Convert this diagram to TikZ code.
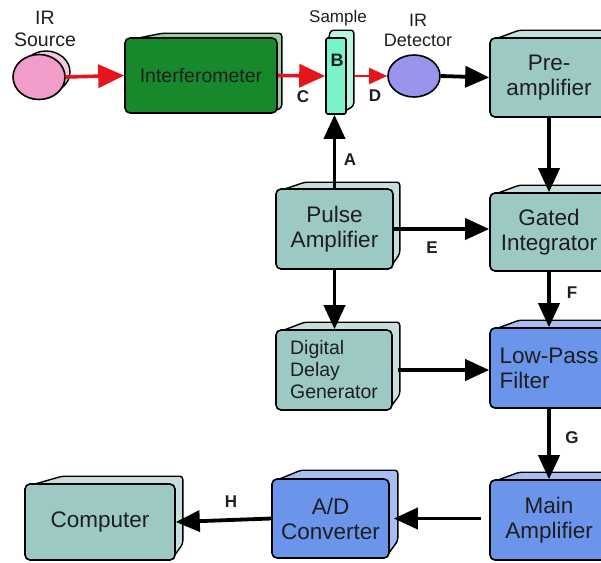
\documentclass[tikz,border=0pt]{standalone}
\usepackage{fontspec}
\setmainfont{Liberation Sans}
\usetikzlibrary{positioning,calc,shapes.geometric,arrows.meta,backgrounds}

\definecolor{tealF}{HTML}{9DC9C5}
\definecolor{tealB}{HTML}{C6DFDC}
\definecolor{blueF}{HTML}{6B95EA}
\definecolor{blueB}{HTML}{A6BFF0}
\definecolor{greenF}{HTML}{17882B}
\definecolor{greenB}{HTML}{93D09B}
\definecolor{mintF}{HTML}{7AF2CA}
\definecolor{mintB}{HTML}{B8F6E0}
\definecolor{pinkF}{HTML}{F29DC9}
\definecolor{pinkB}{HTML}{F2C9DB}
\definecolor{violetF}{HTML}{9A93EB}
\definecolor{beamred}{HTML}{E5151B}
\definecolor{ink}{HTML}{1E1E1E}

\begin{document}
\begin{tikzpicture}[x=1pt, y=-1pt,
    box/.style={rectangle, draw=black, line width=1.6pt, rounded corners=5pt, inner sep=0pt, text=ink, font=\fontsize{22.5}{25}\selectfont, align=center},
    back/.style={draw=black, line width=1.4pt, rounded corners=3pt},
    lamp/.style={ellipse, draw=black, line width=1.6pt, inner sep=0pt},
    tag/.style={text=ink, font=\fontsize{19.5}{22}\selectfont, align=center, inner sep=0pt},
    letter/.style={text=ink, font=\fontsize{17}{17}\selectfont\bfseries, inner sep=0pt},
    arrow/.style={draw, line width=3.8pt, -{Triangle[length=24pt, width=21pt]}}, % black signal
    beam/.style={draw=beamred, line width=3.6pt, -{Triangle[length=26pt, width=23pt]}}, % IR beam
    thinbeam/.style={draw=beamred, line width=2pt, -{Triangle[length=18pt, width=16pt]}}
]
    \useasboundingbox (0,0) rectangle (601,562);
    \clip (0,0) rectangle (601,562);

    % Optics row
    \node (source) [lamp, fill=pinkF, minimum width=52pt, minimum height=45pt] at (39,77) {};
    \node (interf) [box, fill=greenF, minimum width=152pt, minimum height=75pt, font=\fontsize{19.5}{23}\selectfont] at (201,75.5) {Interferometer};
    \node (sample) [box, fill=mintF, minimum width=20pt, minimum height=76pt, rounded corners=2pt] at (336,76) {};
    \node (detector) [lamp, fill=violetF, minimum width=52pt, minimum height=42pt] at (414,76) {};
    \node (preamp) [box, fill=tealF, minimum width=118pt, minimum height=79pt] at (549,77.5) {Pre-\\amplifier};

    % Electronics
    \node (pulse) [box, fill=tealF, minimum width=117pt, minimum height=80pt] at (334.5,229) {Pulse\\Amplifier};
    \node (gated) [box, fill=tealF, minimum width=118pt, minimum height=78pt] at (549,232) {Gated\\Integrator};
    \node (delay) [box, fill=tealF, minimum width=116pt, minimum height=80pt, align=left, font=\fontsize{19.5}{22}\selectfont] at (334,370) {Digital\\Delay\\Generator};
    \node (lowpass) [box, fill=blueF, minimum width=118pt, minimum height=80pt, align=left] at (549,368) {Low-Pass\\Filter};
    \node (mainamp) [box, fill=blueF, minimum width=118pt, minimum height=80pt] at (549,520) {Main\\Amplifier};
    \node (ad) [box, fill=blueF, minimum width=117pt, minimum height=79pt] at (330.5,518.5) {A/D\\Converter};
    \node (computer) [box, fill=tealF, minimum width=150pt, minimum height=76pt] at (100,522) {Computer};

    % Back faces
    \begin{scope}[on background layer]
        \filldraw[line width=1.4pt, fill=pinkB] ($(source.center)+(7,-5)$) ellipse [x radius=24pt, y radius=21pt];
        \foreach \n/\c/\d/\h in {interf/greenB/4/6, sample/mintB/7/9, preamp/tealB/7/16, pulse/tealB/6/16, gated/tealB/7/16, delay/tealB/7/16, lowpass/blueB/7/16, mainamp/blueB/7/16, ad/blueB/8/18, computer/tealB/7/17}
            \draw[back, fill=\c] ($(\n.north west)+(3,3)$) -- ($(\n.north west)!0.25!(\n.north east)+(0,-\d)$) -- ($(\n.north east)+(\d,-\d)$) -- ($(\n.south east)+(\d,-\h)$) -- ($(\n.south east)+(-3,-3)$) -- cycle;
    \end{scope}

    % Texts
    \node (srcTag) [tag] at (45,29) {IR\\Source};
    \node (detTag) [tag, font=\fontsize{18}{20}\selectfont] at (418,30) {IR\\Detector};
    \node (smpTag) [tag, font=\fontsize{17}{18}\selectfont] at (338,18) {Sample};
    \node (lblB) [letter, font=\fontsize{18}{18}\selectfont\bfseries] at (337,60) {B};
    \node (lblA) [letter] at (350,160) {A};
    \node (lblC) [letter] at (303,97) {C};
    \node (lblD) [letter] at (375,96) {D};
    \node (lblE) [letter] at (432,248) {E};
    \node (lblF) [letter] at (572,293) {F};
    \node (lblG) [letter] at (572,438) {G};
    \node (lblH) [letter] at (231,502) {H};

    % Connections
    \path [beam] (source.east) -- (interf.west);
    \path [beam] (interf.east) -- (sample.west);
    \path [thinbeam] ([xshift=7pt]sample.east) -- (detector.west);
    \path [arrow] (detector.east) -- (preamp.west);
    \path [arrow] (preamp.south) -- (gated.north);
    \path [arrow] (pulse.north) -- (pulse.north |- sample.south);
    \path [arrow] (pulse.east) -- (pulse.east -| gated.west);
    \path [arrow] (pulse.south) -- (pulse.south |- delay.north);
    \path [arrow] (gated.south) -- (lowpass.north);
    \path [arrow] ([xshift=5pt]delay.east) -- (delay.east -| lowpass.west);
    \path [arrow] (lowpass.south) -- (mainamp.north);
    \path [arrow] ([xshift=-8pt]mainamp.west |- ad.east) -- ([xshift=4pt]ad.east);
    \path [arrow] (ad.west) -- (computer.east);

\end{tikzpicture}
\end{document}
